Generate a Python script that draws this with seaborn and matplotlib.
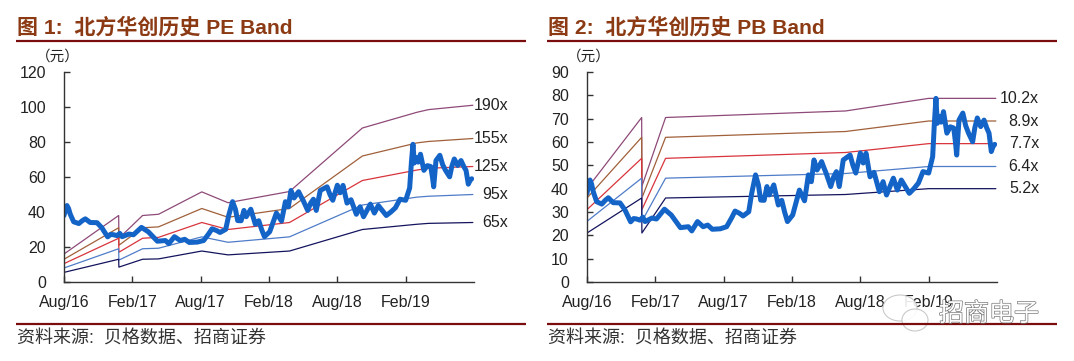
import matplotlib
matplotlib.use("Agg")
import matplotlib.pyplot as plt
import matplotlib.patheffects as pe
from matplotlib.patches import Ellipse
import pandas as pd
import seaborn as sns

W, H = 1074, 361
tick_pos = [0, 6, 12, 18, 24, 30]
tick_labels = ["Aug/16", "Feb/17", "Aug/17", "Feb/18", "Aug/18", "Feb/19"]

price_months = [0.0, 0.12, 0.26, 0.4, 0.55, 0.85, 1.3, 1.6, 1.87, 2.3, 2.9, 3.33, 3.83, 4.1, 4.36, 4.65, 4.9, 5.1, 5.7, 6.1, 6.8, 7.4, 7.8, 8.2, 8.9, 9.2,
                9.7, 10.2, 10.6, 11.0, 11.7, 12.26, 12.7, 13.0, 13.4, 13.7, 14.2, 14.46, 14.8, 15.05, 15.25, 15.55, 15.8, 16.0, 16.4,
                16.8, 17.1, 17.35, 17.6, 18.06, 18.65, 19.1, 19.44, 19.7, 19.93, 20.2, 20.6, 20.8, 21.0, 21.4, 21.65, 21.9, 22.15, 22.5, 23.1, 23.35, 23.6,
                24.0, 24.25, 24.5, 24.85, 25.2, 25.67, 26.0, 26.3, 26.9, 27.25, 27.6, 28.3, 28.7, 29.1, 29.5, 30.0, 30.35, 30.5, 30.64, 30.76, 30.95, 31.1, 31.3,
                31.6, 31.9, 32.2, 32.35, 32.46, 32.66, 33.0, 33.25, 33.5, 33.86, 34.05, 34.27, 34.57, 34.86, 35.1, 35.3, 35.5, 35.65, 35.8]
price_values = [38, 41, 43.7, 42, 38.7, 34.4, 33.4, 35, 36.1, 34, 33.9, 30.9, 25.8, 27.2, 27, 26.5, 27.8, 25.9, 27.4, 27, 31.2, 28.7, 26, 23.3, 23.7, 21.9,
                25.9, 23.7, 24.4, 22.6, 22.8, 23.7, 27.5, 30.4, 29.4, 28.3, 30.1, 38, 45.9, 41.6, 35.1, 35, 40.9, 37.3, 41.6,
                33, 35, 30, 25.9, 28.7, 39.4, 34.8, 45.9, 43, 52.3, 48, 51.6, 49, 46.6, 40.9, 45, 47.3, 40.9, 52.3, 54.4, 50, 46.7,
                55.3, 51, 55.2, 45.1, 47, 38.7, 43, 37.3, 44.5, 39.4, 43.7, 38, 40, 42.4, 47.3, 46.7, 53.7, 68, 78.7, 68, 71, 68.5, 73,
                63.8, 66.5, 66, 60, 54.4, 69.4, 72.4, 67, 63.8, 60.1, 66, 70.3, 66.6, 69.4, 66, 63.8, 55.9, 58, 59]

pe_months = [0, 4.8, 4.82, 6.9, 8.3, 12.1, 14.4, 19.8, 26.2, 31, 32, 35.9]
pe_bands = {
    "190x": [16, 38, 25, 38, 38.7, 51.5, 45.3, 51.7, 88, 97, 98.5, 101],
    "155x": [13, 31, 21, 31, 31.5, 42, 37, 42, 72, 79.5, 80.3, 82],
    "125x": [10.5, 25, 17, 25, 25.5, 34, 30, 34, 58, 64, 65, 66],
    "95x": [8, 19, 12.5, 19, 19.3, 25.8, 22.7, 25.8, 44, 48.5, 49, 50],
    "65x": [5.5, 13, 8.5, 13, 13.2, 17.7, 15.5, 17.7, 30, 33, 33.5, 34],
}
pb_months = [0, 4.8, 4.82, 6.9, 22.7, 30, 35.9]
pb_bands = {
    "10.2x": [40, 70.5, 41, 70.5, 73.3, 78.7, 78.7],
    "8.9x": [36, 62, 36, 62, 64.5, 69, 69],
    "7.7x": [31, 53, 31, 53, 55.5, 59.3, 59.3],
    "6.4x": [26, 44.5, 26, 44.5, 46.5, 49.5, 49.5],
    "5.2x": [21, 36, 21, 36, 37.5, 40, 40],
}
band_colors = ["#8E4A78", "#A0603A", "#D8343C", "#4F7CC8", "#14145E"]
price_color = "#1464C8"
rule_color = "#7A0E0E"
title_color = "#8C3A14"

sns.set_theme(style="white")
FONT = ["Liberation Sans", "Noto Sans CJK SC", "DejaVu Sans"]
plt.rcParams["font.family"] = FONT

fig = plt.figure(figsize=(W / 100, H / 100), dpi=100, facecolor="white")


def make_axes(x0, x1, y_top, y_bot):
    return fig.add_axes([x0 / W, 1 - y_bot / H, (x1 - x0) / W, (y_bot - y_top) / H])


def panel(ax, months, bands, ymax, ystep, label_right):
    frames = [pd.DataFrame({"month": months, "value": vals, "band": name}) for name, vals in bands.items()]
    long = pd.concat(frames, ignore_index=True)
    sns.lineplot(data=long, x="month", y="value", hue="band", palette=dict(zip(bands, band_colors)),
                 estimator=None, sort=False, linewidth=0.9, legend=False, ax=ax)
    sns.lineplot(x=price_months, y=price_values, color=price_color, linewidth=3.6,
                 estimator=None, sort=False, ax=ax)
    ax.set_xlim(0, 36)
    ax.set_ylim(0, ymax)
    ax.set_xlabel("")
    ax.set_ylabel("")
    ax.set_xticks(tick_pos)
    ax.set_xticklabels(tick_labels)
    ax.set_yticks(list(range(0, ymax + 1, ystep)))
    ax.tick_params(axis="both", direction="in", length=4, width=1, color="#333333",
                   labelsize=11.5, labelcolor="#222222", bottom=True, left=True)
    ax.tick_params(axis="x", pad=9.5)
    ax.tick_params(axis="y", pad=13)
    for s in ["top", "right"]:
        ax.spines[s].set_visible(False)
    for s in ["left", "bottom"]:
        ax.spines[s].set_color("#333333")
        ax.spines[s].set_linewidth(1)
    for name, vals in bands.items():
        ax.annotate(name, xy=(1, vals[-1]), xycoords=("axes fraction", "data"),
                    xytext=(label_right, 0), textcoords="offset pixels",
                    ha="right", va="center", fontsize=11.5, color="#222222")


ax1 = make_axes(64, 474, 72, 282)
panel(ax1, pe_months, pe_bands, 120, 20, 34)
ax2 = make_axes(587, 997, 72, 282)
panel(ax2, pb_months, pb_bands, 90, 10, 42)

ov = fig.add_axes([0, 0, 1, 1], facecolor="none", zorder=10)
ov.set_xlim(0, W)
ov.set_ylim(H, 0)
ov.axis("off")

for x0, num, name in [(17, "1", "PE"), (548, "2", "PB")]:
    x1 = x0 + 509
    ov.plot([x0 - 1, x1], [41, 41], color=rule_color, lw=1.6, solid_capstyle="butt")
    ov.plot([x0 - 1, x1], [324, 324], color=rule_color, lw=1.6, solid_capstyle="butt")
    ov.text(x0, 27, f"图 {num}:  北方华创历史 {name} Band", fontsize=15.1, fontweight="bold",
            color=title_color, ha="left", va="center")
    ov.text(x0, 339, "资料来源:  贝格数据、招商证券", fontsize=13, color="#333333", ha="left", va="center")
    ov.text(x0 + 19, 57, "（元）", fontsize=10.5, color="#222222", ha="left", va="center")

for cx, cy, w, h in [(900, 308, 34, 26), (915, 320, 26, 22)]:
    ov.add_patch(Ellipse((cx, cy), w, h, facecolor="white", edgecolor="#C4C4C4", lw=0.8, alpha=0.9))
ov.text(989, 314, "招商电子", fontsize=18, color="white", ha="center", va="center",
        path_effects=[pe.withStroke(linewidth=1.0, foreground="#777777")])

fig.savefig("out.png", dpi=100, facecolor="white")
